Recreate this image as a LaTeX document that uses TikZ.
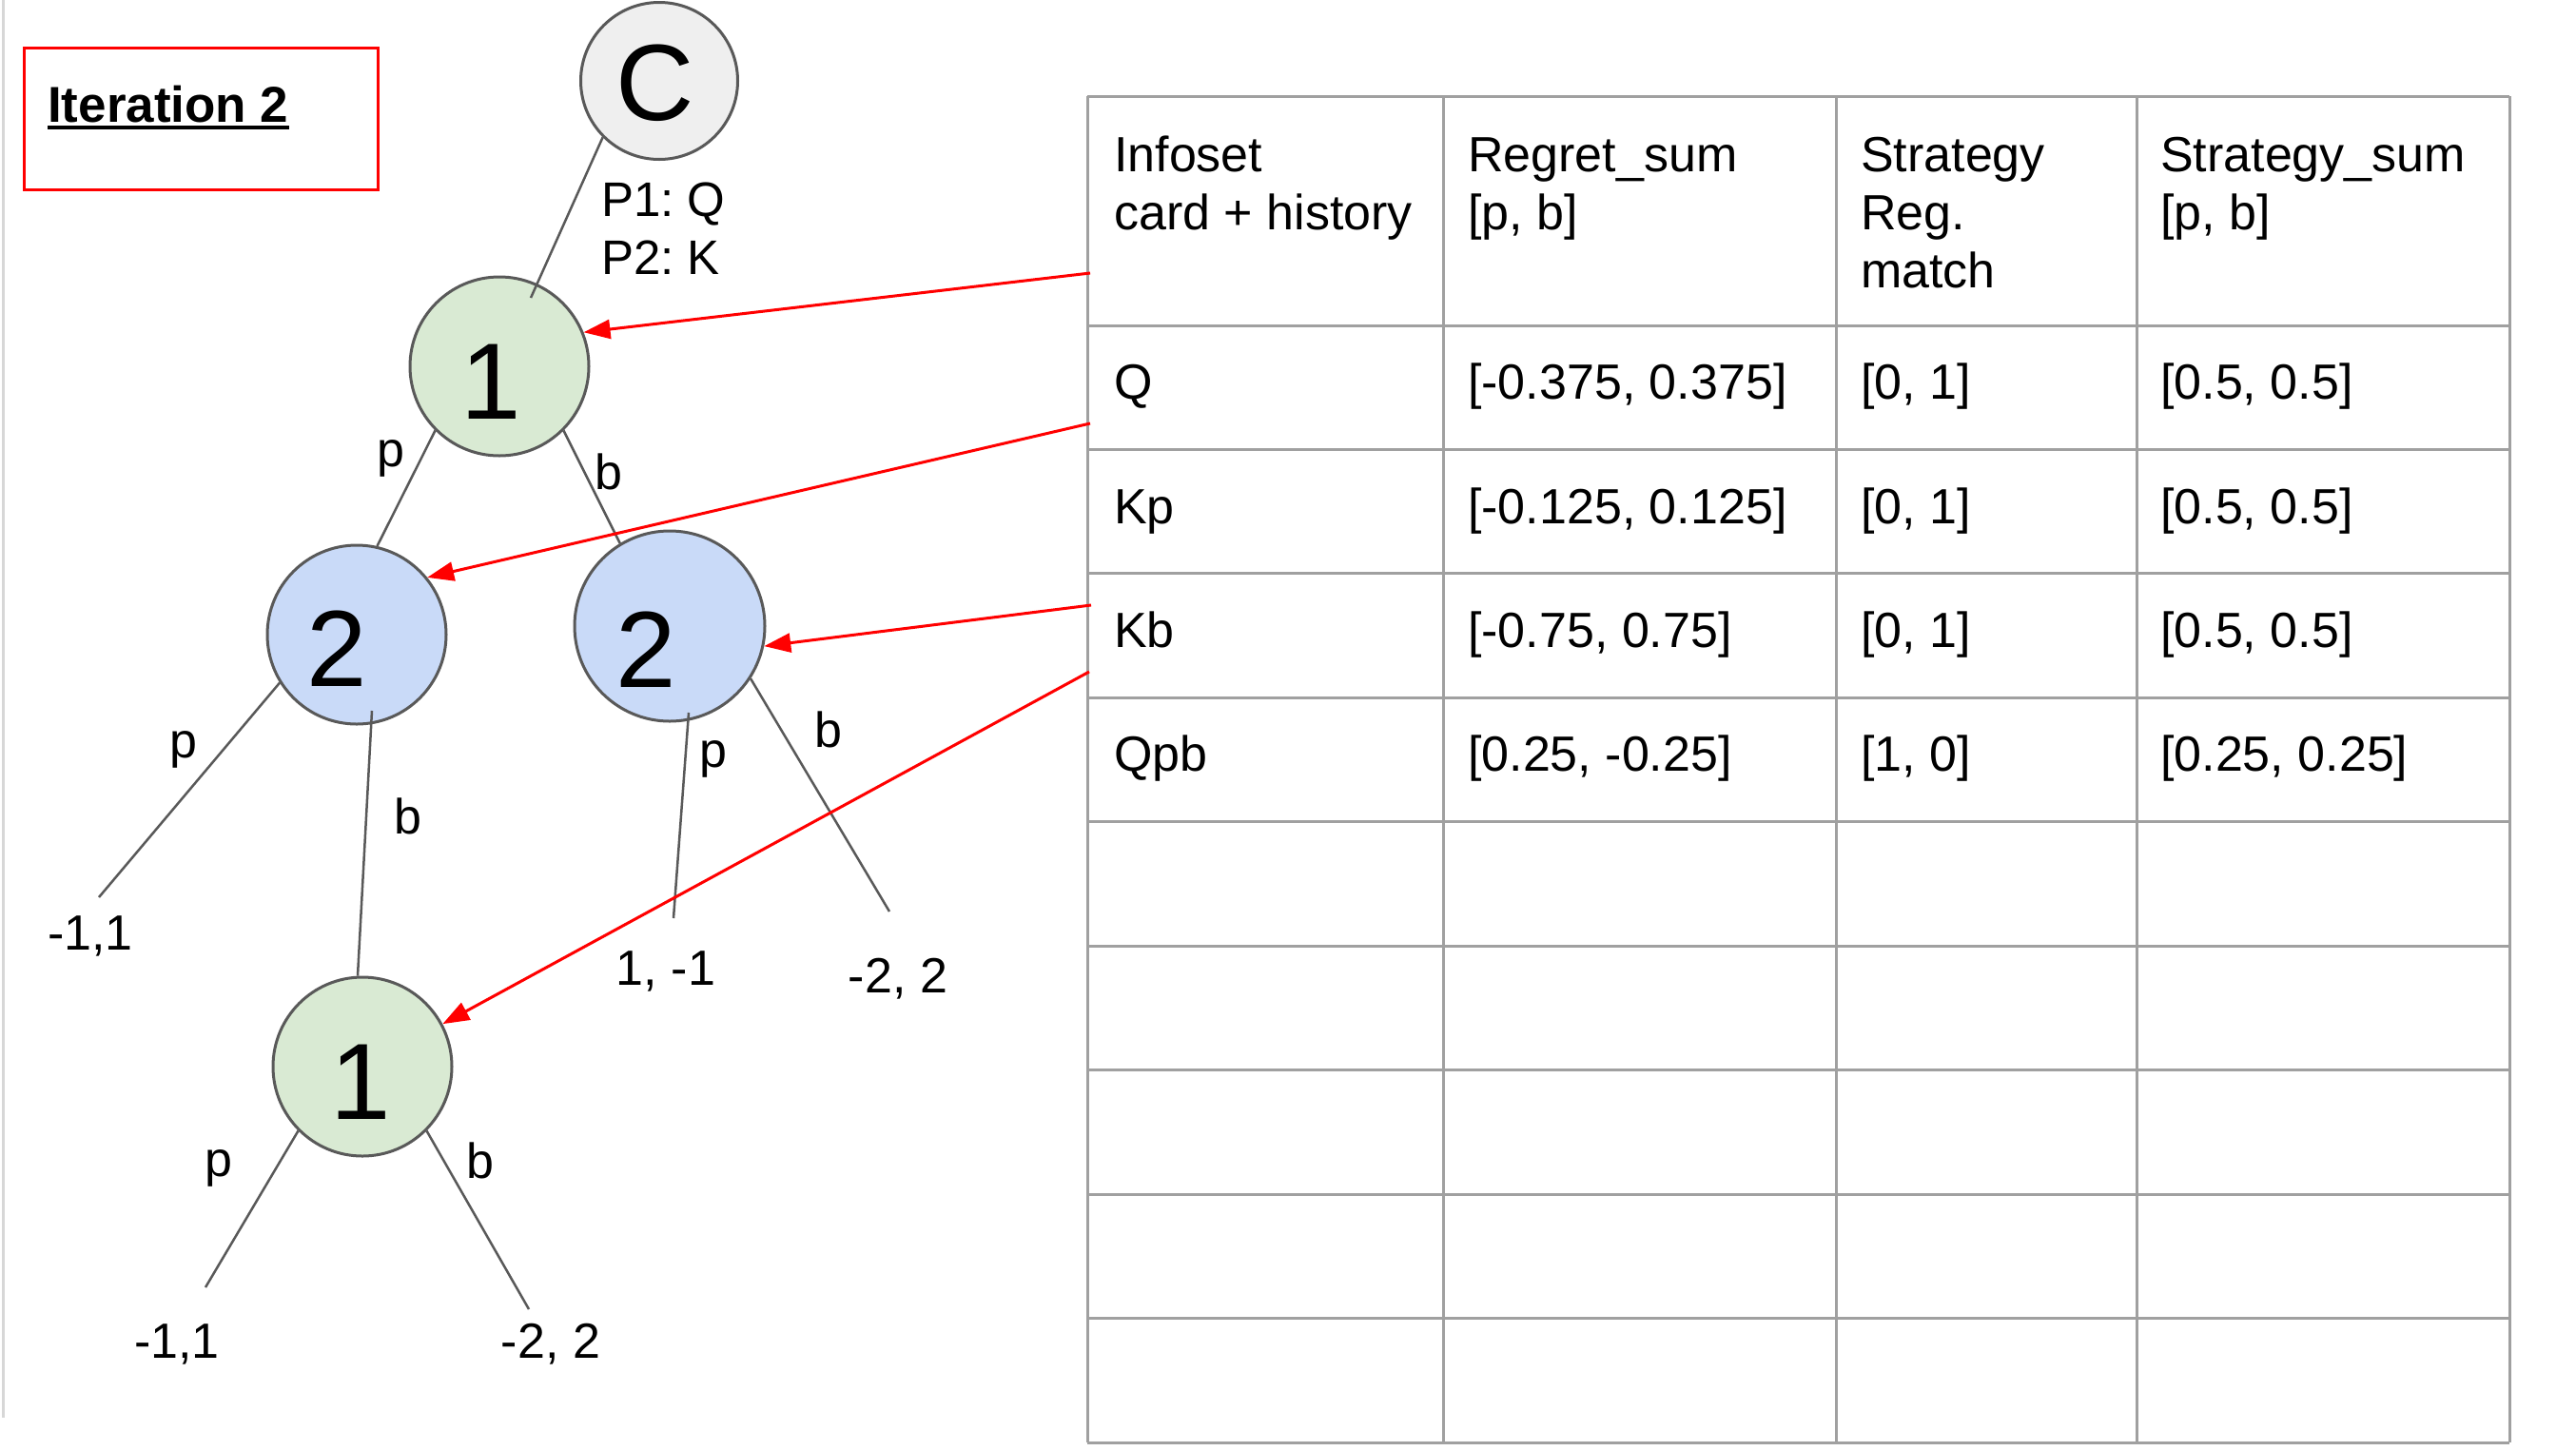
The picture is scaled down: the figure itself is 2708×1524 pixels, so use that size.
\documentclass[tikz,border=0pt]{standalone}
\usepackage{fontspec}
\setmainfont{Liberation Sans}
\usetikzlibrary{arrows.meta}
\frenchspacing
\definecolor{edgegray}{HTML}{595959}
\definecolor{cfill}{HTML}{EFEFEF}
\definecolor{onefill}{HTML}{D9EAD3}
\definecolor{twofill}{HTML}{C9DAF8}
\definecolor{tablegray}{RGB}{160,160,160}
\definecolor{leftgray}{RGB}{215,215,215}
\definecolor{boxred}{HTML}{FF0000}
\tikzset{
 circ/.style={circle, draw=edgegray, line width=3pt, inner sep=0pt, minimum size=#1},
 bignum/.style={anchor=base, inner sep=0pt, font=\fontsize{114}{130}\selectfont},
 lbl/.style={anchor=base, inner sep=0pt, font=\fontsize{52}{61}\selectfont},
 cell/.style={anchor=base west, inner sep=0pt, font=\fontsize{52}{61}\selectfont},
 branch/.style={draw=edgegray, line width=2.5pt},
 ptr/.style={draw=boxred, line width=3pt, -{Triangle[length=28pt,width=20pt]}},
 tabline/.style={draw=tablegray, line width=3pt},
}
\begin{document}
\begin{tikzpicture}[x=1pt,y=-1pt]
\useasboundingbox (0,0) rectangle (2708,1524);
\fill[white] (0,0) rectangle (2708,1524);
\draw[leftgray, line width=3pt] (3,0) -- (3,1490);

% title box
\node[draw=boxred, line width=3pt, minimum width=372pt, minimum height=149pt, anchor=north west, inner sep=0pt, outer sep=0pt] (box) at (25,50) {};
\node[anchor=base west, inner sep=0pt, font=\bfseries\fontsize{53}{61}\selectfont] (title) at (50,128) {Iteration 2};
\draw[line width=4pt] ([yshift=-6pt]title.base west) -- ([yshift=-6pt]title.base east);

% table grid
\foreach \yy in {101,342,472,602,733,863,994,1124,1255,1385,1516}
  \draw[tabline] (1143,\yy) -- (2638,\yy);
\foreach \xx in {1143,1517,1930,2246,2638}
  \draw[tabline] (\xx,101) -- (\xx,1516);

% table text
\node[cell] (h1a) at (1171,180) {Infoset};
\node[cell] (h1b) at (1171,241) {card + history};
\node[cell] (h2a) at (1543,180) {Regret\_sum};
\node[cell] (h2b) at (1543,241) {[p, b]};
\node[cell] (h3a) at (1956,180) {Strategy};
\node[cell] (h3b) at (1956,241) {Reg.};
\node[cell] (h3c) at (1956,302) {match};
\node[cell] (h4a) at (2271,180) {Strategy\_sum};
\node[cell] (h4b) at (2271,241) {[p, b]};

\node[cell] (r1a) at (1171,419) {Q};
\node[cell] (r1b) at (1543,419) {[-0.375, 0.375]};
\node[cell] (r1c) at (1956,419) {[0, 1]};
\node[cell] (r1d) at (2271,419) {[0.5, 0.5]};

\node[cell] (r2a) at (1171,550) {Kp};
\node[cell] (r2b) at (1543,550) {[-0.125, 0.125]};
\node[cell] (r2c) at (1956,550) {[0, 1]};
\node[cell] (r2d) at (2271,550) {[0.5, 0.5]};

\node[cell] (r3a) at (1171,680) {Kb};
\node[cell] (r3b) at (1543,680) {[-0.75, 0.75]};
\node[cell] (r3c) at (1956,680) {[0, 1]};
\node[cell] (r3d) at (2271,680) {[0.5, 0.5]};

\node[cell] (r4a) at (1171,810) {Qpb};
\node[cell] (r4b) at (1543,810) {[0.25, -0.25]};
\node[cell] (r4c) at (1956,810) {[1, 0]};
\node[cell] (r4d) at (2271,810) {[0.25, 0.25]};

% tree nodes
\node[circ=165pt, fill=cfill] (C) at (693,85) {};
\node[circ=188pt, fill=onefill] (N1) at (525,385) {};
\node[circ=188pt, fill=twofill] (N2L) at (375,667) {};
\node[circ=200pt, fill=twofill] (N2R) at (704,658) {};
\node[circ=188pt, fill=onefill] (N1B) at (381,1121) {};

% branches
\coordinate (cEnd) at (558,313);
\draw[branch] (C.225) -- (cEnd);
\draw[branch] (N1.225) -- (N2L.77);
\draw[branch] (N1.-45) -- (N2R.121);
\coordinate (lf1) at (104,943);
\draw[branch] (N2L.212) -- (lf1);
\coordinate (b2s) at (391,747);
\draw[branch] (b2s) -- (N1B.93);
\coordinate (p3s) at (724,749);
\coordinate (lf3) at (708,965);
\draw[branch] (p3s) -- (lf3);
\coordinate (lf4) at (935,958);
\draw[branch] (N2R.-33) -- (lf4);
\coordinate (lf5) at (216,1353);
\draw[branch] (N1B.225) -- (lf5);
\coordinate (lf6) at (556,1376);
\draw[branch] (N1B.-45) -- (lf6);

% red pointers
\coordinate (s1) at (1146,287);
\coordinate (s2) at (1146,445);
\coordinate (s3) at (1147,636);
\coordinate (s4) at (1145,706);
\draw[ptr] (s1) -- (N1.22);
\draw[ptr] (s2) -- (N2L.39);
\draw[ptr] (s3) -- (N2R.-12);
\draw[ptr] (s4) -- (N1B.28);

% node texts
\node[bignum] (tC) at (689,126) {C};
\node[bignum] (t1) at (516,440) {1};
\node[bignum] (t2L) at (354,721) {2};
\node[bignum] (t2R) at (679,722) {2};
\node[bignum] (t1B) at (379,1176) {1};

% chance label
\node[cell, font=\fontsize{51}{61}\selectfont] (pq) at (632,227) {P1: Q};
\node[cell, font=\fontsize{51}{61}\selectfont] (pk) at (632,288) {P2: K};

% edge labels
\node[lbl] (l1) at (411,490) {p};
\node[lbl] (l2) at (640,514) {b};
\node[lbl] (l3) at (193,796) {p};
\node[lbl] (l4) at (429,876) {b};
\node[lbl] (l5) at (750,806) {p};
\node[lbl] (l6) at (871,785) {b};
\node[lbl] (l7) at (230,1236) {p};
\node[lbl] (l8) at (505,1238) {b};

% payoffs
\node[lbl] (v1) at (95,998) {-1,1};
\node[lbl] (v2) at (700,1035) {1, -1};
\node[lbl] (v3) at (944,1043) {-2, 2};
\node[lbl] (v4) at (186,1427) {-1,1};
\node[lbl] (v5) at (579,1427) {-2, 2};
\end{tikzpicture}
\end{document}
